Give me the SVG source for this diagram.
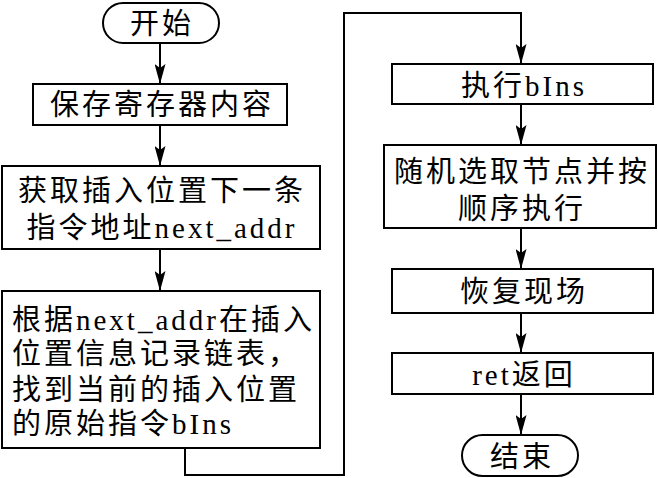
<svg xmlns="http://www.w3.org/2000/svg" width="658" height="478" viewBox="0 0 658 478">
<defs>
<marker id="ah" markerUnits="userSpaceOnUse" markerWidth="20" markerHeight="11" refX="19" refY="5.5" orient="auto" viewBox="0 0 20 11">
<path d="M0,0 L20,5.5 L0,11 L4,5.5 Z" fill="#000"/>
</marker>
</defs>
<style>
.b{fill:#fff;stroke:#000;stroke-width:2}
.t{font-family:"Liberation Serif","Noto Sans CJK SC",serif;font-size:29px;letter-spacing:3px;fill:#000}
.m{text-anchor:middle}
.c{fill:none;stroke:#000;stroke-width:2}
</style>
<rect width="658" height="478" fill="#fff"/>
<g id="start">
<rect class="b" x="103" y="3" width="116" height="40" rx="20"/>
<text class="t m" x="162" y="34">开始</text>
</g>
<g id="save">
<rect class="b" x="33" y="84" width="254" height="41"/>
<text class="t m" x="162" y="115">保存寄存器内容</text>
</g>
<g id="getaddr">
<rect class="b" x="2" y="166" width="318" height="83"/>
<text class="t m" x="162" y="201">获取插入位置下一条</text>
<text class="t m" x="162" y="238">指令地址next_addr</text>
</g>
<g id="find">
<rect class="b" x="2" y="291" width="318" height="157"/>
<text class="t" x="12" y="330">根据next_addr在插入</text>
<text class="t" x="12" y="364">位置信息记录链表，</text>
<text class="t" x="12" y="400">找到当前的插入位置</text>
<text class="t" x="12" y="434">的原始指令bIns</text>
</g>
<g id="exec">
<rect class="b" x="392" y="64" width="261" height="40"/>
<text class="t m" x="524" y="96">执行bIns</text>
</g>
<g id="random">
<rect class="b" x="384" y="145" width="272" height="83"/>
<text class="t m" x="522" y="182">随机选取节点并按</text>
<text class="t m" x="522" y="219">顺序执行</text>
</g>
<g id="restore">
<rect class="b" x="392" y="269" width="261" height="44"/>
<text class="t m" x="524" y="302">恢复现场</text>
</g>
<g id="ret">
<rect class="b" x="392" y="353" width="261" height="41"/>
<text class="t m" x="524" y="385">ret返回</text>
</g>
<g id="end">
<rect class="b" x="462" y="435" width="116" height="41" rx="20.5"/>
<text class="t m" x="522" y="467">结束</text>
</g>
<g id="connectors">
<path class="c" d="M160,43 V83" marker-end="url(#ah)"/>
<path class="c" d="M160,125 V165" marker-end="url(#ah)"/>
<path class="c" d="M160,249 V290" marker-end="url(#ah)"/>
<path class="c" d="M185,448 V475 H344 V13 H521 V63" marker-end="url(#ah)"/>
<path class="c" d="M521,104 V144" marker-end="url(#ah)"/>
<path class="c" d="M521,228 V268" marker-end="url(#ah)"/>
<path class="c" d="M521,313 V352" marker-end="url(#ah)"/>
<path class="c" d="M521,394 V434" marker-end="url(#ah)"/>
</g>
</svg>
